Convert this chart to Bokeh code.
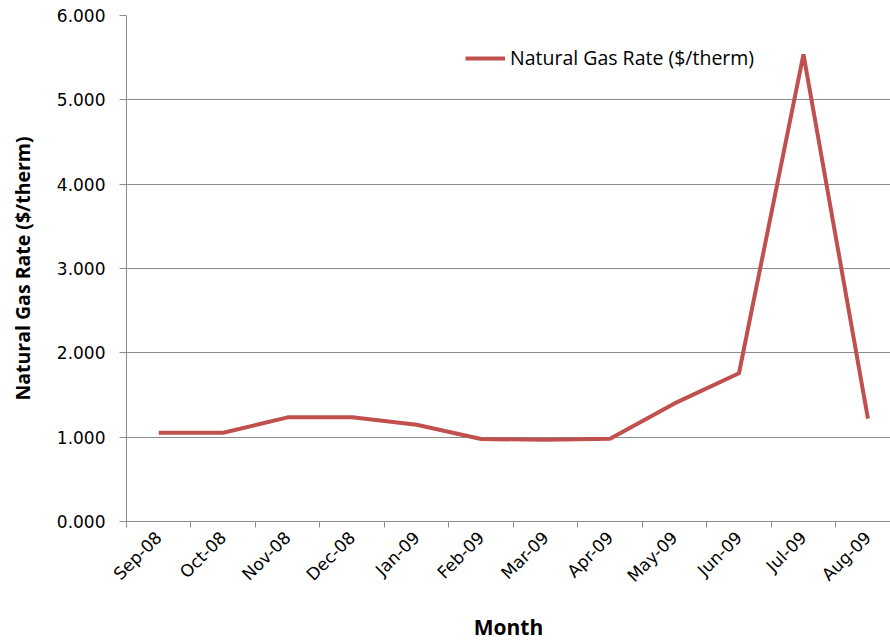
from bokeh.plotting import figure
from bokeh.models import Range1d, FixedTicker, PrintfTickFormatter, Legend, LegendItem, ColumnDataSource
from bokeh.embed import file_html
from bokeh.resources import INLINE
import math

months = ["Sep-08", "Oct-08", "Nov-08", "Dec-08", "Jan-09", "Feb-09",
          "Mar-09", "Apr-09", "May-09", "Jun-09", "Jul-09", "Aug-09"]
rates = [1.052, 1.052, 1.235, 1.235, 1.148, 0.978,
         0.968, 0.982, 1.400, 1.758, 5.540, 1.220]
y_ticks = [0, 1, 2, 3, 4, 5, 6]

xs = list(range(len(months)))
src = ColumnDataSource(dict(x=xs, y=rates, m=months))

GRAY = "#8c8c8c"
RED = "#C0504D"

p = figure(width=890, height=643, output_backend="svg", toolbar_location=None,
           x_range=Range1d(-0.5, 11.35), y_range=Range1d(0, 6))
p.min_border_left = 126
p.min_border_right = 0
p.min_border_top = 15
p.min_border_bottom = 122
p.outline_line_color = None
p.background_fill_color = "white"
p.border_fill_color = "white"

r = p.line("x", "y", source=src, line_color=RED, line_width=4)

# x axis
xa = p.xaxis[0]
xa.ticker = FixedTicker(ticks=xs, minor_ticks=[i - 0.5 for i in range(len(months) + 1)])
xa.major_label_overrides = {i: m for i, m in enumerate(months)}
xa.major_label_orientation = math.pi / 4
xa.major_tick_out = 0
xa.major_tick_in = 0
xa.minor_tick_out = 6
xa.minor_tick_in = 0
xa.minor_tick_line_color = GRAY
xa.axis_line_color = GRAY
xa.major_label_text_font = "DejaVu Sans"
xa.major_label_text_font_size = "17px"
xa.major_label_text_color = "black"
xa.major_label_standoff = 7
xa.axis_label = "Month"
xa.axis_label_text_font = "Open Sans"
xa.axis_label_text_font_style = "bold"
xa.axis_label_text_font_size = "21px"
xa.axis_label_text_color = "black"
xa.axis_label_standoff = 17

# y axis
ya = p.yaxis[0]
ya.ticker = FixedTicker(ticks=y_ticks)
ya.formatter = PrintfTickFormatter(format="%.3f")
ya.major_tick_out = 7
ya.major_tick_in = 0
ya.minor_tick_out = 0
ya.minor_tick_in = 0
ya.major_tick_line_color = GRAY
ya.axis_line_color = GRAY
ya.major_label_text_font = "DejaVu Sans"
ya.major_label_text_font_size = "17px"
ya.major_label_text_color = "black"
ya.major_label_standoff = 14
ya.axis_label = "Natural Gas Rate ($/therm)"
ya.axis_label_text_font = "Open Sans"
ya.axis_label_text_font_style = "bold"
ya.axis_label_text_font_size = "19.5px"
ya.axis_label_text_color = "black"
ya.axis_label_standoff = 18

p.xgrid.visible = False
p.ygrid.grid_line_color = GRAY
p.ygrid.grid_line_width = 1

legend = Legend(items=[LegendItem(label="Natural Gas Rate ($/therm)", renderers=[r])],
                location=(339, 450))
legend.border_line_color = None
legend.background_fill_alpha = 0
legend.padding = 0
legend.margin = 0
legend.glyph_width = 40
legend.glyph_height = 20
legend.label_standoff = 5
legend.label_text_font = "Open Sans"
legend.label_text_font_size = "19.5px"
legend.label_text_color = "black"
p.add_layout(legend, "center")

open("out.html", "w").write(file_html(p, INLINE))
